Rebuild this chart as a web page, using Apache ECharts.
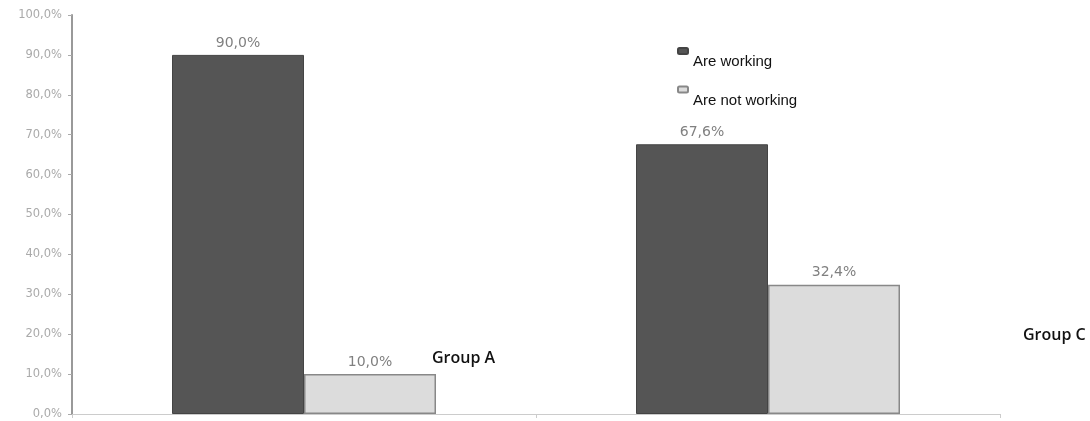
<!DOCTYPE html>
<html><head><meta charset="utf-8">
<script src="https://cdn.jsdelivr.net/npm/echarts@6/dist/echarts.min.js"></script>
<style>html,body{margin:0;padding:0;background:#fff}#c{width:1090px;height:421px}</style>
</head><body><div id="c"></div>
<script>
const categories = ['Group A', 'Group C'];
const seriesNames = ['Are working', 'Are not working'];
const working = [90.0, 67.6];
const notWorking = [10.0, 32.4];
const yTicks = [0, 10, 20, 30, 40, 50, 60, 70, 80, 90, 100];

const fmt = v => v.toFixed(1).replace('.', ',') + '%';
const chart = echarts.init(document.getElementById('c'));
chart.setOption({
  animation: false,
  backgroundColor: '#fff',
  grid: { left: 72, right: 90, top: 15, bottom: 7 },
  legend: {
    orient: 'vertical', left: 672, top: 42, itemGap: 16,
    itemWidth: 10, itemHeight: 6,
    data: seriesNames,
    formatter: n => '{a|' + n + '}',
    textStyle: { rich: { a: { fontFamily: 'Liberation Sans, Arial', fontSize: 15, color: '#111', padding: [22, 0, 0, 0] } } }
  },
  xAxis: {
    type: 'category', data: categories,
    axisLine: { lineStyle: { color: '#ccc', width: 1 } },
    axisTick: { show: true, length: 4, lineStyle: { color: '#ccc' } },
    axisLabel: { show: false }
  },
  yAxis: {
    type: 'value', min: yTicks[0], max: yTicks[yTicks.length - 1], interval: 10,
    splitLine: { show: false },
    axisLine: { show: true, lineStyle: { color: '#999', width: 2 } },
    axisTick: { show: true, length: 4, lineStyle: { color: '#aaa' } },
    axisLabel: { formatter: v => fmt(v), color: '#aaa', fontSize: 11.5, fontFamily: 'DejaVu Sans', margin: 10 }
  },
  series: [
    { name: seriesNames[0], type: 'bar', data: working, barWidth: 132, barGap: '0%',
      itemStyle: { color: '#555555', borderColor: '#444', borderWidth: 1 },
      label: { show: true, position: 'top', formatter: p => fmt(p.value), color: '#808080', fontSize: 14, fontFamily: 'DejaVu Sans', distance: 5 } },
    { name: seriesNames[1], type: 'bar', data: notWorking, barWidth: 132,
      itemStyle: { color: '#dcdcdc', borderColor: '#888', borderWidth: 1.5 },
      label: { show: true, position: 'top', formatter: p => fmt(p.value), color: '#808080', fontSize: 14, fontFamily: 'DejaVu Sans', distance: 5 } }
  ],
  graphic: [
    { type: 'text', left: 432, top: 350, style: { text: categories[0], font: '600 16px "Open Sans"', fill: '#111' } },
    { type: 'text', left: 1023, top: 327, style: { text: categories[1], font: '600 16px "Open Sans"', fill: '#111' } }
  ]
});
</script></body></html>
